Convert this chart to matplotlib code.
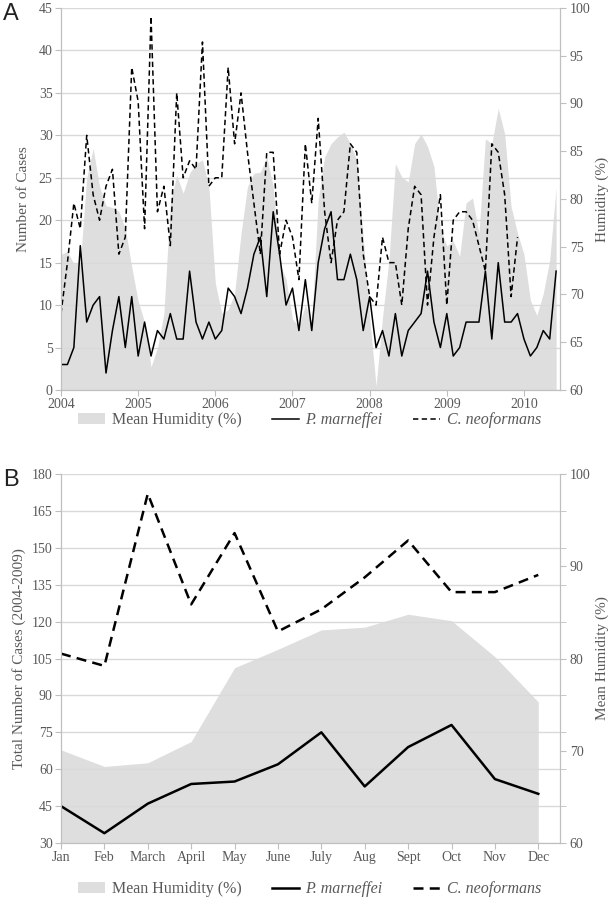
import matplotlib.pyplot as plt
import numpy as np

# Panel A: monthly data, Jan 2004 - Jun 2010
years = ['2004', '2005', '2006', '2007', '2008', '2009', '2010']
marneffei_monthly = [3, 3, 5, 17, 8, 10, 11, 2, 7, 11, 5, 11,
                     4, 8, 4, 7, 6, 9, 6, 6, 14, 8, 6, 8,
                     6, 7, 12, 11, 9, 12, 16, 18, 11, 21, 16, 10,
                     12, 7, 13, 7, 15, 19, 21, 13, 13, 16, 13, 7,
                     11, 5, 7, 4, 9, 4, 7, 8, 9, 14, 8, 5,
                     9, 4, 5, 8, 8, 8, 14, 6, 15, 8, 8, 9,
                     6, 4, 5, 7, 6, 14]
neoformans_monthly = [9, 15, 22, 19, 30, 23, 20, 24, 26, 16, 18, 38,
                      34, 19, 44, 21, 24, 17, 35, 25, 27, 26, 41, 24,
                      25, 25, 38, 29, 35, 28, 22, 16, 28, 28, 16, 20,
                      18, 13, 29, 22, 32, 21, 15, 20, 21, 29, 28, 16,
                      11, 10, 18, 15, 15, 10, 19, 24, 23, 10, 18, 23,
                      10, 20, 21, 21, 20, 17, 14, 29, 28, 23, 11, 18]
humidity_monthly = [74.2, 74.5, 73.2, 73.3, 82.2, 85.3, 81.3, 79.3, 79.1, 78.7, 76.9, 72.9,
                    69.3, 67.1, 62.4, 64.4, 68.0, 79.6, 82.5, 80.6, 82.7, 83.7, 84.1, 81.3,
                    71.2, 68.0, 68.4, 70.1, 76.4, 81.3, 82.7, 82.8, 84.4, 81.3, 73.3, 71.6,
                    67.4, 66.7, 68.9, 67.1, 79.9, 84.4, 85.8, 86.5, 87.0, 85.8, 84.0, 76.0,
                    67.6, 60.4, 67.6, 73.6, 83.7, 82.3, 81.8, 85.8, 86.8, 85.5, 83.4, 76.9,
                    75.1, 75.6, 74.0, 79.6, 80.1, 76.4, 86.3, 85.8, 89.5, 86.8, 79.2, 76.4,
                    74.2, 69.4, 67.8, 70.1, 73.6, 81.2]

# Panel B: totals by calendar month, 2004-2009
months = ['Jan', 'Feb', 'March', 'April', 'May', 'June',
          'July', 'Aug', 'Sept', 'Oct', 'Nov', 'Dec']
marneffei_total = [45, 34, 46, 54, 55, 62, 75, 53, 69, 78, 56, 50]
neoformans_total = [107, 102, 172, 127, 156, 116, 125, 138, 153, 132, 132, 139]
humidity_mean = [70.1, 68.3, 68.7, 71.0, 79.0, 81.0, 83.1, 83.4, 84.8, 84.1, 80.2, 75.3]

plt.rcParams['font.family'] = 'Liberation Serif'
txt = '#595959'
axc = '#bfbfbf'
fill = '#dedede'

fig = plt.figure(figsize=(6.13, 9.0), dpi=100)


def style_axes(ax, ax2):
    ax.spines['top'].set_visible(False)
    ax2.spines['top'].set_visible(False)
    for s in ['left', 'bottom', 'right']:
        ax.spines[s].set_color(axc)
        ax2.spines[s].set_color(axc)
    ax.tick_params(colors=axc, labelcolor=txt, labelsize=10, length=4, pad=2)
    ax2.tick_params(colors=axc, labelcolor=txt, labelsize=10, length=4, pad=3)
    ax.grid(axis='y', color='#d9d9d9', lw=1)
    ax.set_axisbelow(True)
    ax.set_zorder(ax2.get_zorder() + 1)
    ax.patch.set_visible(False)


# ---- Panel A ----
axA = fig.add_axes([0.0995, 0.5667, 0.8140, 0.4244])
axA2 = axA.twinx()
style_axes(axA, axA2)
tA = np.arange(len(humidity_monthly))
axA2.fill_between(tA, 60, humidity_monthly, color=fill, lw=0)
axA.plot(np.arange(len(marneffei_monthly)), marneffei_monthly, color='black', lw=1.1)
axA.plot(np.arange(len(neoformans_monthly)), neoformans_monthly, color='black', lw=1.1,
         dashes=(3.5, 2.2))
axA.set_xlim(0, 77.6)
axA.set_ylim(0, 45)
axA.set_yticks(range(0, 46, 5))
axA2.set_ylim(60, 100)
axA2.set_yticks(range(60, 101, 5))
axA.set_xticks(range(0, 73, 12))
axA.set_xticklabels(years)
axA.set_ylabel('Number of Cases', color=txt, fontsize=11, labelpad=6)
axA2.set_ylabel('Humidity (%)', color=txt, fontsize=11, labelpad=4)

# ---- Panel B ----
axB = fig.add_axes([0.0995, 0.0633, 0.8140, 0.4100])
axB2 = axB.twinx()
style_axes(axB, axB2)
tB = np.arange(len(months))
axB2.fill_between(tB, 60, humidity_mean, color=fill, lw=0)
axB.plot(tB, marneffei_total, color='black', lw=1.8)
axB.plot(tB, neoformans_total, color='black', lw=1.8, dashes=(4, 2.5))
axB.set_xlim(0, 11.5)
axB.set_ylim(30, 180)
axB.set_yticks(range(30, 181, 15))
axB2.set_ylim(60, 100)
axB2.set_yticks(range(60, 101, 10))
axB2.set_yticks(np.arange(60, 101, 4), minor=True)
axB2.tick_params(which='minor', colors=axc, length=4)
axB.set_xticks(tB)
axB.set_xticklabels(months)
axB.set_ylabel('Total Number of Cases (2004-2009)', color=txt, fontsize=11, labelpad=4)
axB2.set_ylabel('Mean Humidity (%)', color=txt, fontsize=11, labelpad=4)

# legends
for ypos, lw, dash in [(0.533, 1.1, (3.5, 2.2)), (0.012, 1.8, (4, 2.5))]:
    h1 = plt.Rectangle((0, 0), 1, 1, color=fill, lw=0)
    h2, = plt.plot([], [], color='black', lw=lw)
    h3, = plt.plot([], [], color='black', lw=lw, dashes=dash)
    leg = fig.legend([h1, h2, h3], ['Mean Humidity (%)', 'P. marneffei', 'C. neoformans'],
                     loc='center', bbox_to_anchor=(0.505, ypos), ncol=3, frameon=False,
                     fontsize=11.5, handlelength=1.7, columnspacing=1.9, handletextpad=0.4,
                     borderpad=0.1)
    for t in leg.get_texts():
        t.set_color(txt)
    leg.get_texts()[1].set_style('italic')
    leg.get_texts()[2].set_style('italic')

fig.text(0.005, 0.978, 'A', fontsize=17, family='Liberation Sans', color='#222222')
fig.text(0.005, 0.46, 'B', fontsize=17, family='Liberation Sans', color='#222222')

fig.savefig('out.png', dpi=100)
